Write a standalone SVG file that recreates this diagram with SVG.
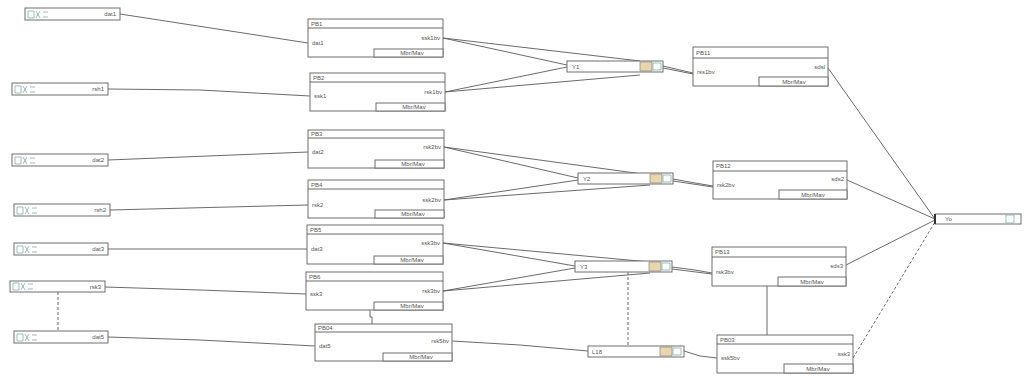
<svg xmlns="http://www.w3.org/2000/svg" width="1024" height="376" viewBox="0 0 1024 376">
<style>
.bx{fill:#fff;stroke:#6e6e6e;stroke-width:1}
.ln{fill:none;stroke:#5a5a5a;stroke-width:0.9}
.ds{fill:none;stroke:#5a5a5a;stroke-width:0.9;stroke-dasharray:3 2}
.t{font-family:"Liberation Sans",Arial,sans-serif;font-size:6px;fill:#555}
.ic{fill:none;stroke:#8aa;stroke-width:0.8}
.yi{fill:#e8d6b0;stroke:#777;stroke-width:0.6}
</style>
<rect width="1024" height="376" fill="#fff"/>
<defs>
<g id="inicon"><path class="ic" d="M2 2h6v7h-6zM10 2l4 7M14 2l-4 7M17 3h5M17 8h5"/></g>
</defs>
<g id="connectors">
<path class="ln" d="M120 14L308 43"/>
<path class="ln" d="M108 89L200 90L310 96"/>
<path class="ln" d="M108 160L308 152"/>
<path class="ln" d="M110 210L308 205"/>
<path class="ln" d="M108 249L307 249"/>
<path class="ln" d="M105 287L200 290L306 294"/>
<path class="ln" d="M108 337L200 340L315 346"/>
<path class="ds" d="M58 292V331"/>
<path class="ln" d="M370 310V317H372V324"/>
<path class="ln" d="M443 38L567 65M443 38L640 61M445 92L567 67M445 92L640 75"/>
<path class="ln" d="M663 66L680 70L693 73M663 68L693 74"/>
<path class="ln" d="M444 147L578 178M444 147L650 175M444 200L578 180M444 200L650 185"/>
<path class="ln" d="M673 179L695 183L713 186M673 181L713 187"/>
<path class="ln" d="M443 243L575 266M443 243L650 262M443 291L575 268M443 291L650 273"/>
<path class="ln" d="M672 267L695 270L712 273M672 269L712 274"/>
<path class="ln" d="M452 341L520 345L588 351"/>
<path class="ln" d="M684 351L700 356L717 358"/>
<path class="ds" d="M628 272V346"/>
<path class="ln" d="M767 286V335"/>
<path class="ln" d="M828 68L935 219M847 180L935 219M846 265L935 220"/>
<path class="ds" d="M853 358L935 222"/>
</g>
<g id="in1"><rect class="bx" x="25" y="8" width="95" height="12"/><use href="#inicon" x="26" y="9"/><text class="t" x="116" y="16" text-anchor="end">dat1</text></g>
<g id="in2"><rect class="bx" x="12" y="83" width="96" height="12"/><use href="#inicon" x="13" y="84"/><text class="t" x="104" y="91" text-anchor="end">rsh1</text></g>
<g id="in3"><rect class="bx" x="12" y="154" width="96" height="12"/><use href="#inicon" x="13" y="155"/><text class="t" x="104" y="162" text-anchor="end">dat2</text></g>
<g id="in4"><rect class="bx" x="14" y="204" width="96" height="12"/><use href="#inicon" x="15" y="205"/><text class="t" x="106" y="212" text-anchor="end">rsh2</text></g>
<g id="in5"><rect class="bx" x="14" y="243" width="94" height="12"/><use href="#inicon" x="15" y="244"/><text class="t" x="104" y="251" text-anchor="end">dat3</text></g>
<g id="in6"><rect class="bx" x="10" y="281" width="95" height="11"/><use href="#inicon" x="11" y="281"/><text class="t" x="101" y="289" text-anchor="end">rsk3</text></g>
<g id="in7"><rect class="bx" x="14" y="331" width="94" height="12"/><use href="#inicon" x="15" y="332"/><text class="t" x="104" y="339" text-anchor="end">dat5</text></g>

<g id="pb1"><rect class="bx" x="308" y="19" width="135" height="38"/><path class="ln" d="M308 28H443"/><rect class="bx" x="374" y="49" width="69" height="8"/><text class="t" x="311" y="26">PB1</text><text class="t" x="312" y="45">dat1</text><text class="t" x="440" y="40" text-anchor="end">ssk1bv</text><text class="t" x="412" y="55" text-anchor="middle">Mbr/Mav</text></g>
<g id="pb2"><rect class="bx" x="310" y="73" width="135" height="38"/><path class="ln" d="M310 82H445"/><rect class="bx" x="376" y="103" width="69" height="8"/><text class="t" x="313" y="80">PB2</text><text class="t" x="314" y="98">ssk1</text><text class="t" x="442" y="94" text-anchor="end">rsk1bv</text><text class="t" x="414" y="109" text-anchor="middle">Mbr/Mav</text></g>
<g id="pb3"><rect class="bx" x="308" y="130" width="136" height="38"/><path class="ln" d="M308 138H444"/><rect class="bx" x="375" y="160" width="69" height="8"/><text class="t" x="311" y="136">PB3</text><text class="t" x="312" y="154">dat2</text><text class="t" x="441" y="149" text-anchor="end">rsk2bv</text><text class="t" x="413" y="166" text-anchor="middle">Mbr/Mav</text></g>
<g id="pb4"><rect class="bx" x="308" y="180" width="136" height="38"/><path class="ln" d="M308 189H444"/><rect class="bx" x="375" y="210" width="69" height="8"/><text class="t" x="311" y="187">PB4</text><text class="t" x="312" y="207">rsk2</text><text class="t" x="441" y="202" text-anchor="end">ssk2bv</text><text class="t" x="413" y="216" text-anchor="middle">Mbr/Mav</text></g>
<g id="pb5"><rect class="bx" x="307" y="225" width="136" height="39"/><path class="ln" d="M307 234H443"/><rect class="bx" x="374" y="256" width="69" height="8"/><text class="t" x="310" y="232">PB5</text><text class="t" x="311" y="251">dat3</text><text class="t" x="440" y="245" text-anchor="end">ssk3bv</text><text class="t" x="412" y="262" text-anchor="middle">Mbr/Mav</text></g>
<g id="pb6"><rect class="bx" x="306" y="272" width="137" height="38"/><path class="ln" d="M306 281H443"/><rect class="bx" x="374" y="302" width="69" height="8"/><text class="t" x="309" y="279">PB6</text><text class="t" x="310" y="296">ssk3</text><text class="t" x="440" y="293" text-anchor="end">rsk3bv</text><text class="t" x="412" y="308" text-anchor="middle">Mbr/Mav</text></g>
<g id="pb04"><rect class="bx" x="315" y="324" width="137" height="37"/><path class="ln" d="M315 332H452"/><rect class="bx" x="383" y="353" width="69" height="8"/><text class="t" x="318" y="330">PB04</text><text class="t" x="319" y="348">dat5</text><text class="t" x="449" y="343" text-anchor="end">rsk5bv</text><text class="t" x="421" y="359" text-anchor="middle">Mbr/Mav</text></g>

<g id="y1"><rect class="bx" x="567" y="61" width="96" height="11"/><rect class="yi" x="640" y="62" width="12" height="9"/><path class="ic" d="M653 63h8v7h-8z"/><text class="t" x="572" y="69">Y1</text></g>
<g id="y2"><rect class="bx" x="578" y="173" width="95" height="11"/><rect class="yi" x="650" y="174" width="12" height="9"/><path class="ic" d="M663 175h8v7h-8z"/><text class="t" x="583" y="181">Y2</text></g>
<g id="y3"><rect class="bx" x="575" y="261" width="97" height="11"/><rect class="yi" x="649" y="262" width="12" height="9"/><path class="ic" d="M662 263h8v7h-8z"/><text class="t" x="580" y="269">Y3</text></g>
<g id="y4"><rect class="bx" x="588" y="346" width="96" height="11"/><rect class="yi" x="660" y="347" width="12" height="9"/><path class="ic" d="M673 348h8v7h-8z"/><text class="t" x="592" y="354">L18</text></g>

<g id="pb11"><rect class="bx" x="693" y="47" width="135" height="39"/><path class="ln" d="M693 58H828"/><rect class="bx" x="759" y="77" width="69" height="9"/><text class="t" x="696" y="55">PB11</text><text class="t" x="697" y="74">rss1bv</text><text class="t" x="825" y="69" text-anchor="end">sdsl</text><text class="t" x="794" y="84" text-anchor="middle">Mbr/Mav</text></g>
<g id="pb12"><rect class="bx" x="713" y="161" width="134" height="38"/><path class="ln" d="M713 171H847"/><rect class="bx" x="779" y="190" width="68" height="9"/><text class="t" x="716" y="168">PB12</text><text class="t" x="717" y="187">rsk2bv</text><text class="t" x="844" y="181" text-anchor="end">sds2</text><text class="t" x="813" y="197" text-anchor="middle">Mbr/Mav</text></g>
<g id="pb13"><rect class="bx" x="712" y="247" width="134" height="39"/><path class="ln" d="M712 257H846"/><rect class="bx" x="778" y="277" width="68" height="9"/><text class="t" x="715" y="254">PB13</text><text class="t" x="716" y="274">rsk3bv</text><text class="t" x="843" y="268" text-anchor="end">sds3</text><text class="t" x="812" y="284" text-anchor="middle">Mbr/Mav</text></g>
<g id="pb03"><rect class="bx" x="717" y="335" width="136" height="38"/><path class="ln" d="M717 344H853"/><rect class="bx" x="784" y="364" width="69" height="9"/><text class="t" x="720" y="342">PB03</text><text class="t" x="721" y="360">ssk5bv</text><text class="t" x="850" y="356" text-anchor="end">ssk3</text><text class="t" x="818" y="371" text-anchor="middle">Mbr/Mav</text></g>

<g id="yo"><rect class="bx" x="935" y="214" width="86" height="10"/><rect x="934" y="214" width="2" height="10" fill="#333"/><path class="ic" d="M1006 215h8v8h-8z"/><text class="t" x="945" y="221">Yo</text></g>
</svg>
